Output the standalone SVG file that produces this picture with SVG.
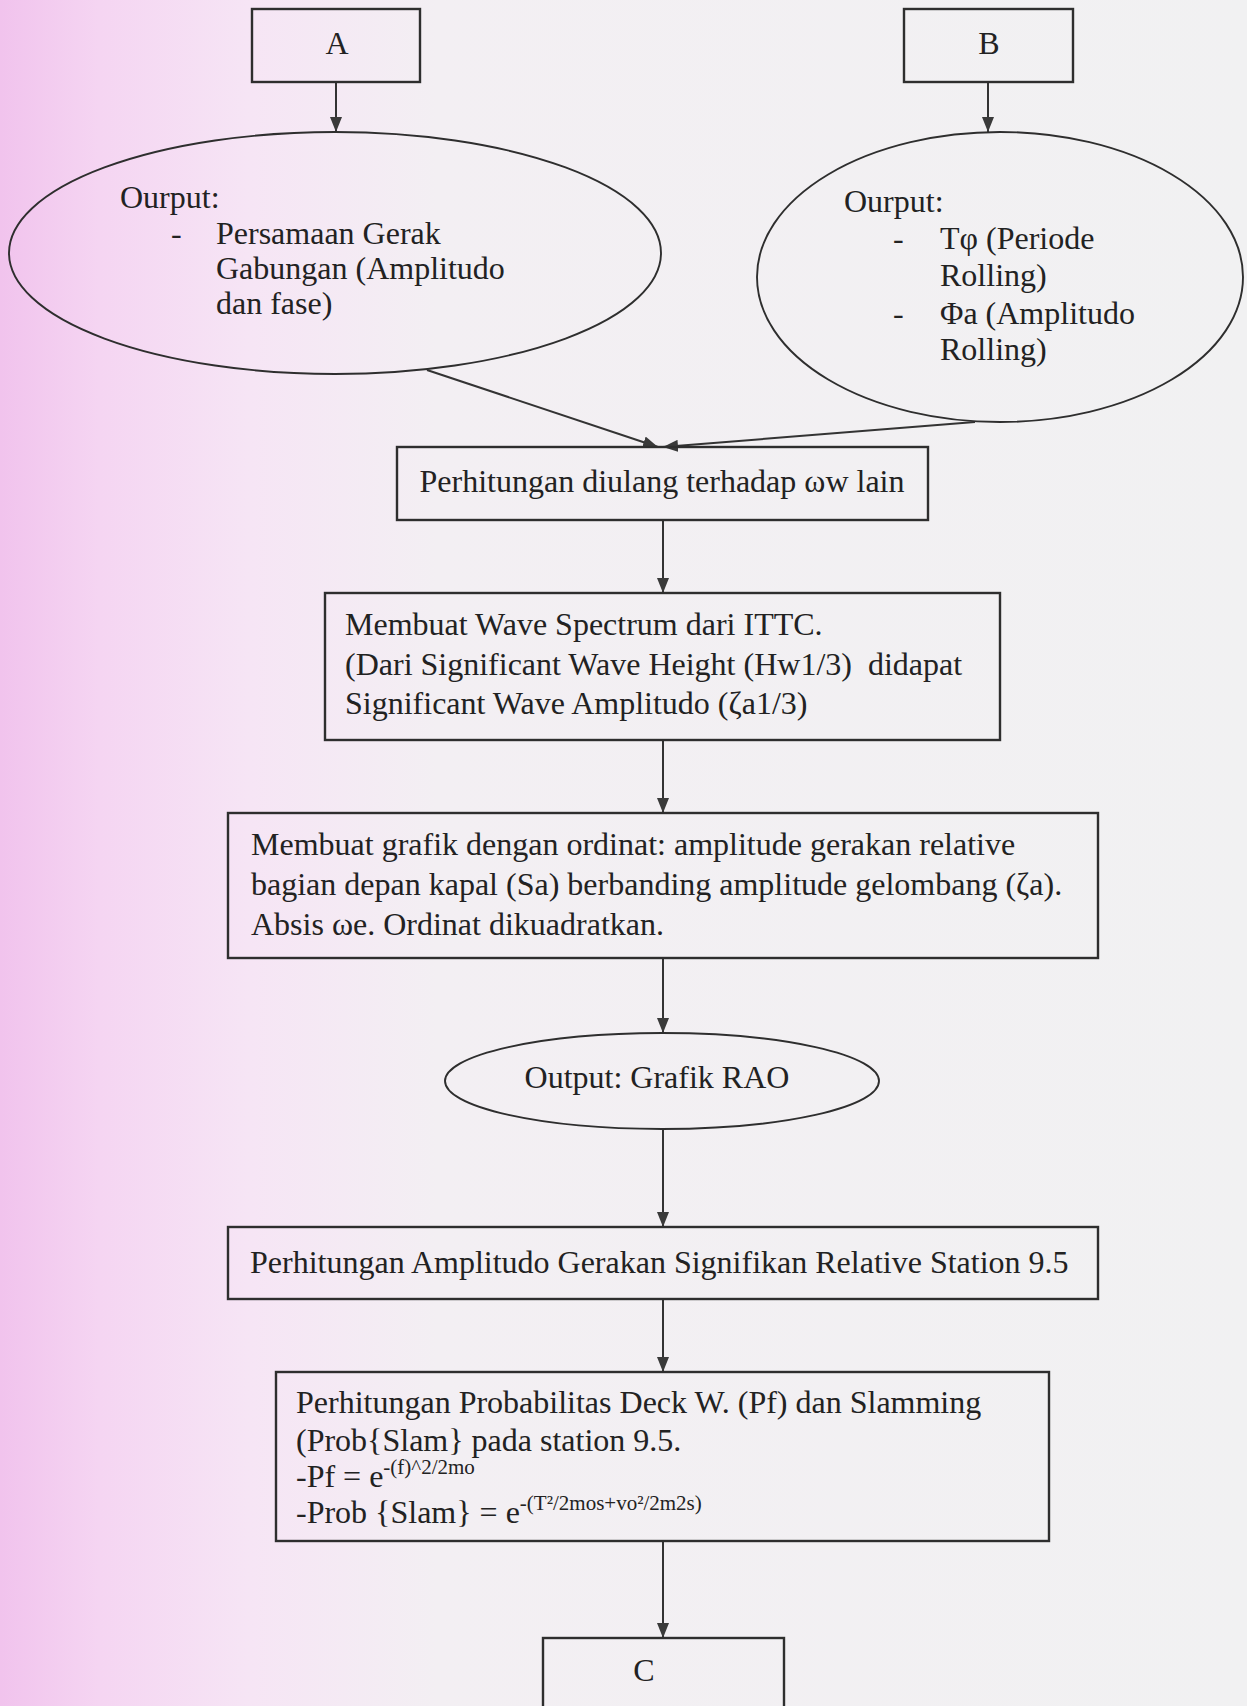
<svg xmlns="http://www.w3.org/2000/svg" width="1247" height="1706" viewBox="0 0 1247 1706">
  <defs>
    <linearGradient id="bg" x1="0" y1="0" x2="1" y2="0">
      <stop offset="0" stop-color="#f1c3ed"/>
      <stop offset="0.08" stop-color="#f5d5f2"/>
      <stop offset="0.2" stop-color="#f6e5f5"/>
      <stop offset="0.35" stop-color="#f3eff3"/>
      <stop offset="1" stop-color="#f1f1f2"/>
    </linearGradient>
    <marker id="arr" markerUnits="userSpaceOnUse" markerWidth="16" markerHeight="12" refX="15" refY="6" orient="auto">
      <path d="M0,0 L15,6 L0,12 z" fill="#3a3a3a"/>
    </marker>
    <style>
      .box { fill: none; stroke: #2e2e2e; stroke-width: 2.4; }
      .ell { fill: none; stroke: #2e2e2e; stroke-width: 1.9; }
      .t { font-family: "Liberation Serif", "Times New Roman", serif; font-size: 32px; fill: #222; }
      .sup { font-size: 21px; }
      .con { fill: none; stroke: #333; stroke-width: 2; }
    </style>
  </defs>

  <rect x="0" y="0" width="1247" height="1706" fill="url(#bg)"/>

  <g id="connectors">
    <line class="con" x1="336" y1="82" x2="336" y2="132" marker-end="url(#arr)"/>
    <line class="con" x1="988" y1="82" x2="988" y2="132" marker-end="url(#arr)"/>
    <line class="con" x1="427" y1="370" x2="658" y2="447" marker-end="url(#arr)"/>
    <line class="con" x1="975" y1="422" x2="663" y2="447" marker-end="url(#arr)"/>
    <line class="con" x1="663" y1="520" x2="663" y2="593" marker-end="url(#arr)"/>
    <line class="con" x1="663" y1="740" x2="663" y2="813" marker-end="url(#arr)"/>
    <line class="con" x1="663" y1="958" x2="663" y2="1033" marker-end="url(#arr)"/>
    <line class="con" x1="663" y1="1130" x2="663" y2="1227" marker-end="url(#arr)"/>
    <line class="con" x1="663" y1="1299" x2="663" y2="1372" marker-end="url(#arr)"/>
    <line class="con" x1="663" y1="1541" x2="663" y2="1638" marker-end="url(#arr)"/>
  </g>

  <g id="node-A">
    <rect class="box" x="252" y="9" width="168" height="73"/>
    <text class="t" x="337" y="54" text-anchor="middle">A</text>
  </g>

  <g id="node-B">
    <rect class="box" x="904" y="9" width="169" height="73"/>
    <text class="t" x="989" y="54" text-anchor="middle">B</text>
  </g>

  <g id="node-outA">
    <ellipse class="ell" cx="335" cy="253" rx="326" ry="121"/>
    <text class="t" x="120" y="208">Ourput:</text>
    <text class="t" x="171" y="244">-</text>
    <text class="t" x="216" y="244">Persamaan Gerak</text>
    <text class="t" x="216" y="279">Gabungan (Amplitudo</text>
    <text class="t" x="216" y="314">dan fase)</text>
  </g>

  <g id="node-outB">
    <ellipse class="ell" cx="1000" cy="277" rx="243" ry="145"/>
    <text class="t" x="844" y="212">Ourput:</text>
    <text class="t" x="893" y="249">-</text>
    <text class="t" x="940" y="249">Tφ (Periode</text>
    <text class="t" x="940" y="286">Rolling)</text>
    <text class="t" x="893" y="324">-</text>
    <text class="t" x="940" y="324">Φa (Amplitudo</text>
    <text class="t" x="940" y="360">Rolling)</text>
  </g>

  <g id="node-ulang">
    <rect class="box" x="397" y="447" width="531" height="73"/>
    <text class="t" x="662" y="492" text-anchor="middle">Perhitungan diulang terhadap ωw lain</text>
  </g>

  <g id="node-spectrum">
    <rect class="box" x="325" y="593" width="675" height="147"/>
    <text class="t" x="345" y="635">Membuat Wave Spectrum dari ITTC.</text>
    <text class="t" x="345" y="675" xml:space="preserve">(Dari Significant Wave Height (Hw1/3)  didapat</text>
    <text class="t" x="345" y="714">Significant Wave Amplitudo (ζa1/3)</text>
  </g>

  <g id="node-grafik">
    <rect class="box" x="228" y="813" width="870" height="145"/>
    <text class="t" x="251" y="855">Membuat grafik dengan ordinat: amplitude gerakan relative</text>
    <text class="t" x="251" y="895">bagian depan kapal (Sa) berbanding amplitude gelombang (ζa).</text>
    <text class="t" x="251" y="935">Absis ωe. Ordinat dikuadratkan.</text>
  </g>

  <g id="node-rao">
    <ellipse class="ell" cx="662" cy="1081" rx="217" ry="48"/>
    <text class="t" x="657" y="1088" text-anchor="middle">Output: Grafik RAO</text>
  </g>

  <g id="node-amplitudo">
    <rect class="box" x="228" y="1227" width="870" height="72"/>
    <text class="t" x="250" y="1273">Perhitungan Amplitudo Gerakan Signifikan Relative Station 9.5</text>
  </g>

  <g id="node-prob">
    <rect class="box" x="276" y="1372" width="773" height="169"/>
    <text class="t" x="296" y="1413">Perhitungan Probabilitas Deck W. (Pf) dan Slamming</text>
    <text class="t" x="296" y="1451">(Prob{Slam} pada station 9.5.</text>
    <text class="t" x="296" y="1487">-Pf = e<tspan class="sup" dy="-13">-(f)^2/2mo</tspan></text>
    <text class="t" x="296" y="1523">-Prob {Slam} = e<tspan class="sup" dy="-13">-(T²/2mos+vo²/2m2s)</tspan></text>
  </g>

  <g id="node-C">
    <rect class="box" x="543" y="1638" width="241" height="90"/>
    <text class="t" x="644" y="1681" text-anchor="middle">C</text>
  </g>
</svg>
